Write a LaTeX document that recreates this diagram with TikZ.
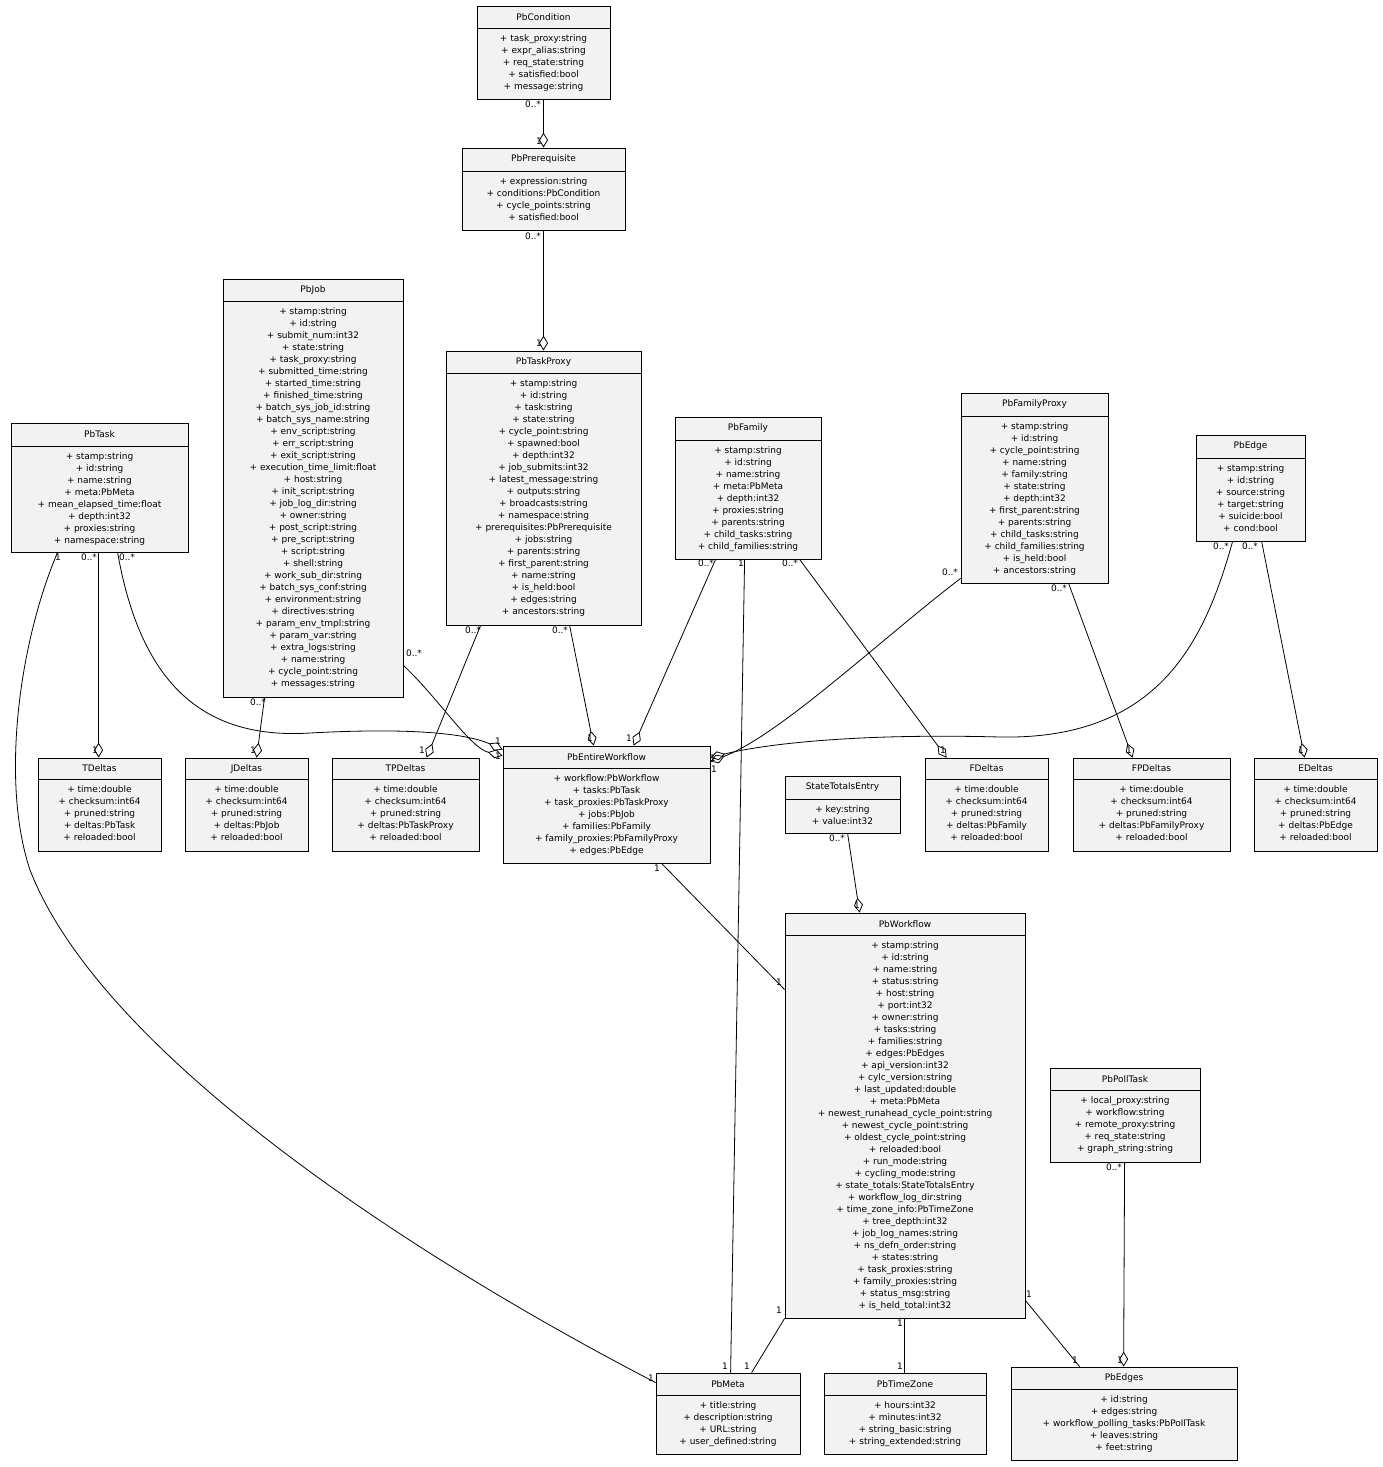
\documentclass[tikz,border=0pt]{standalone}
\usepackage{fontspec}
\setmainfont{DejaVu Sans}
\usetikzlibrary{arrows.meta,fit}
\tikzset{
 cls/.style={draw, fill=gray!10, inner sep=0pt, line width=0.8pt},
 ttl/.style={font=\fontsize{9}{12}\selectfont, inner sep=0pt},
 bdy/.style={font=\fontsize{9}{12}\selectfont, inner sep=0pt, align=center},
 lbl/.style={font=\fontsize{9}{10}\selectfont, inner sep=0pt},
 con/.style={line width=0.8pt},
 agg/.style={con, -{Diamond[open,length=15pt,width=9pt,line width=0.8pt]}}
}
\newcount\mlc
\newcommand\ml[3]{\global\advance\mlc1 \node[lbl] (m\the\mlc) at (#1,-#2) {#3};}
\newcommand\umlc[8]{%
 \node[cls, fit={(#2,-#3) (#4,-#5)}] (#1) {};
 \draw[line width=0.8pt] (#2,-#6) -- (#4,-#6);
 \node[ttl] (#1-t) at ({(#2+#4)/2},{-(#3+#6)/2}) {#7};
 \node[bdy, anchor=north] (#1-b) at ({(#2+#4)/2},{-#6-6}) {#8};
}
\begin{document}
\begin{tikzpicture}[x=1pt,y=1pt]
\useasboundingbox (0,0) rectangle (1383,-1467);
\fill[white] (0,0) rectangle (1383,-1467);
\umlc{cond}{477}{6}{610}{99}{28}{PbCondition}{+ task\_proxy:string\\+ expr\_alias:string\\+ req\_state:string\\+ satisfied:bool\\+ message:string}
\umlc{prereq}{462}{148}{625}{230}{171}{PbPrerequisite}{+ expression:string\\+ conditions:PbCondition\\+ cycle\_points:string\\+ satisfied:bool}
\umlc{job}{223}{279}{403}{697}{301}{PbJob}{+ stamp:string\\+ id:string\\+ submit\_num:int32\\+ state:string\\+ task\_proxy:string\\+ submitted\_time:string\\+ started\_time:string\\+ finished\_time:string\\+ batch\_sys\_job\_id:string\\+ batch\_sys\_name:string\\+ env\_script:string\\+ err\_script:string\\+ exit\_script:string\\+ execution\_time\_limit:float\\+ host:string\\+ init\_script:string\\+ job\_log\_dir:string\\+ owner:string\\+ post\_script:string\\+ pre\_script:string\\+ script:string\\+ shell:string\\+ work\_sub\_dir:string\\+ batch\_sys\_conf:string\\+ environment:string\\+ directives:string\\+ param\_env\_tmpl:string\\+ param\_var:string\\+ extra\_logs:string\\+ name:string\\+ cycle\_point:string\\+ messages:string}
\umlc{tproxy}{446}{351}{641}{625}{373}{PbTaskProxy}{+ stamp:string\\+ id:string\\+ task:string\\+ state:string\\+ cycle\_point:string\\+ spawned:bool\\+ depth:int32\\+ job\_submits:int32\\+ latest\_message:string\\+ outputs:string\\+ broadcasts:string\\+ namespace:string\\+ prerequisites:PbPrerequisite\\+ jobs:string\\+ parents:string\\+ first\_parent:string\\+ name:string\\+ is\_held:bool\\+ edges:string\\+ ancestors:string}
\umlc{fam}{675}{417}{821}{559}{440}{PbFamily}{+ stamp:string\\+ id:string\\+ name:string\\+ meta:PbMeta\\+ depth:int32\\+ proxies:string\\+ parents:string\\+ child\_tasks:string\\+ child\_families:string}
\umlc{fproxy}{961}{393}{1108}{583}{416}{PbFamilyProxy}{+ stamp:string\\+ id:string\\+ cycle\_point:string\\+ name:string\\+ family:string\\+ state:string\\+ depth:int32\\+ first\_parent:string\\+ parents:string\\+ child\_tasks:string\\+ child\_families:string\\+ is\_held:bool\\+ ancestors:string}
\umlc{edge}{1196}{435}{1305}{541}{458}{PbEdge}{+ stamp:string\\+ id:string\\+ source:string\\+ target:string\\+ suicide:bool\\+ cond:bool}
\umlc{task}{11}{423}{188}{552}{446}{PbTask}{+ stamp:string\\+ id:string\\+ name:string\\+ meta:PbMeta\\+ mean\_elapsed\_time:float\\+ depth:int32\\+ proxies:string\\+ namespace:string}
\umlc{td}{38}{758}{161}{851}{779}{TDeltas}{+ time:double\\+ checksum:int64\\+ pruned:string\\+ deltas:PbTask\\+ reloaded:bool}
\umlc{jd}{185}{758}{308}{851}{779}{JDeltas}{+ time:double\\+ checksum:int64\\+ pruned:string\\+ deltas:PbJob\\+ reloaded:bool}
\umlc{tpd}{332}{758}{479}{851}{779}{TPDeltas}{+ time:double\\+ checksum:int64\\+ pruned:string\\+ deltas:PbTaskProxy\\+ reloaded:bool}
\umlc{ew}{503}{746}{710}{863}{768}{PbEntireWorkflow}{+ workflow:PbWorkflow\\+ tasks:PbTask\\+ task\_proxies:PbTaskProxy\\+ jobs:PbJob\\+ families:PbFamily\\+ family\_proxies:PbFamilyProxy\\+ edges:PbEdge}
\umlc{ste}{785}{776}{900}{833}{799}{StateTotalsEntry}{+ key:string\\+ value:int32}
\umlc{fd}{925}{758}{1048}{851}{779}{FDeltas}{+ time:double\\+ checksum:int64\\+ pruned:string\\+ deltas:PbFamily\\+ reloaded:bool}
\umlc{fpd}{1073}{758}{1230}{851}{779}{FPDeltas}{+ time:double\\+ checksum:int64\\+ pruned:string\\+ deltas:PbFamilyProxy\\+ reloaded:bool}
\umlc{ed}{1254}{758}{1377}{851}{779}{EDeltas}{+ time:double\\+ checksum:int64\\+ pruned:string\\+ deltas:PbEdge\\+ reloaded:bool}
\umlc{wf}{785}{913}{1025}{1318}{935}{PbWorkflow}{+ stamp:string\\+ id:string\\+ name:string\\+ status:string\\+ host:string\\+ port:int32\\+ owner:string\\+ tasks:string\\+ families:string\\+ edges:PbEdges\\+ api\_version:int32\\+ cylc\_version:string\\+ last\_updated:double\\+ meta:PbMeta\\+ newest\_runahead\_cycle\_point:string\\+ newest\_cycle\_point:string\\+ oldest\_cycle\_point:string\\+ reloaded:bool\\+ run\_mode:string\\+ cycling\_mode:string\\+ state\_totals:StateTotalsEntry\\+ workflow\_log\_dir:string\\+ time\_zone\_info:PbTimeZone\\+ tree\_depth:int32\\+ job\_log\_names:string\\+ ns\_defn\_order:string\\+ states:string\\+ task\_proxies:string\\+ family\_proxies:string\\+ status\_msg:string\\+ is\_held\_total:int32}
\umlc{poll}{1050}{1068}{1200}{1162}{1090}{PbPollTask}{+ local\_proxy:string\\+ workflow:string\\+ remote\_proxy:string\\+ req\_state:string\\+ graph\_string:string}
\umlc{meta}{656}{1373}{800}{1454}{1395}{PbMeta}{+ title:string\\+ description:string\\+ URL:string\\+ user\_defined:string}
\umlc{tz}{824}{1373}{986}{1454}{1395}{PbTimeZone}{+ hours:int32\\+ minutes:int32\\+ string\_basic:string\\+ string\_extended:string}
\umlc{edges}{1011}{1367}{1237}{1460}{1389}{PbEdges}{+ id:string\\+ edges:string\\+ workflow\_polling\_tasks:PbPollTask\\+ leaves:string\\+ feet:string}
% connectors
\draw[agg] (cond.south) -- (prereq.north);
\draw[agg] (prereq.south) -- (tproxy.north);
\draw[agg] ([xshift=88pt]task.south west) -- ([xshift=61pt]td.north west);
\draw[agg] ([xshift=107pt]task.south west) .. controls (140,-680) and (200,-740) .. (310,-733) .. controls (420,-727) and (470,-735) .. ([yshift=-4pt]ew.north west);
\draw[agg] ([yshift=32pt]job.south east) .. controls (440,-700) and (470,-748) .. ([yshift=-10pt]ew.north west);
\draw[agg] ([xshift=42pt]job.south west) -- ([xshift=72pt]jd.north west);
\draw[agg] ([xshift=35pt]tproxy.south west) -- ([xshift=95pt]tpd.north west);
\draw[agg] ([xshift=124pt]tproxy.south west) -- ([xshift=91pt]ew.north west);
\draw[agg] ([xshift=41pt]fam.south west) -- ([xshift=131pt]ew.north west);
\draw[con] ([xshift=70pt]fam.south west) -- ([xshift=75pt]meta.north west);
\draw[agg] ([xshift=125pt]fam.south west) -- ([xshift=22pt]fd.north west);
\draw[agg] ([yshift=5pt]fproxy.south west) .. controls (880,-640) and (780,-735) .. ([yshift=-16pt]ew.north east);
\draw[agg] ([xshift=108pt]fproxy.south west) -- ([xshift=60pt]fpd.north west);
\draw[agg] ([xshift=37pt]edge.south west) .. controls (1205,-640) and (1160,-740) .. (1000,-737) .. controls (850,-733) and (760,-745) .. ([yshift=-12pt]ew.north east);
\draw[agg] ([xshift=66pt]edge.south west) -- ([xshift=51pt]ed.north west);
\draw[agg] ([xshift=63pt]ste.south west) -- ([xshift=75pt]wf.north west);
\draw[con] ([xshift=159pt]ew.south west) -- ([yshift=-77pt]wf.north west);
\draw[con] (wf.south west) -- ([xshift=96pt]meta.north west);
\draw[con] ([xshift=120pt]wf.south west) -- ([xshift=81pt]tz.north west);
\draw[con] ([yshift=18pt]wf.south east) -- ([xshift=69pt]edges.north west);
\draw[agg] ([xshift=75pt]poll.south west) -- ([xshift=113pt]edges.north west);
\draw[con] ([xshift=47pt]task.south west) .. controls (20,-640) and (0,-780) .. (30,-870) .. controls (100,-1050) and (400,-1250) .. ([yshift=-10pt]meta.north west);
% multiplicities
\ml{533}{104}{0..*}\ml{539}{141}{1}
\ml{533}{236}{0..*}\ml{539}{343}{1}
\ml{89}{557}{0..*}\ml{95}{750}{1}
\ml{127}{557}{0..*}\ml{498}{741}{1}
\ml{414}{653}{0..*}\ml{498}{756}{1}
\ml{258}{702}{0..*}\ml{253}{750}{1}
\ml{473}{630}{0..*}\ml{422}{750}{1}
\ml{560}{630}{0..*}\ml{590}{738}{1}
\ml{706}{563}{0..*}\ml{629}{738}{1}
\ml{741}{563}{1}\ml{725}{1366}{1}
\ml{790}{563}{0..*}\ml{943}{750}{1}
\ml{950}{572}{0..*}\ml{714}{769}{1}
\ml{1059}{588}{0..*}\ml{1129}{750}{1}
\ml{1221}{546}{0..*}\ml{713}{758}{1}
\ml{1250}{546}{0..*}\ml{1301}{750}{1}
\ml{837}{838}{0..*}\ml{857}{905}{1}
\ml{657}{868}{1}\ml{779}{982}{1}
\ml{779}{1310}{1}\ml{747}{1366}{1}
\ml{900}{1323}{1}\ml{900}{1366}{1}
\ml{1029}{1294}{1}\ml{1075}{1360}{1}
\ml{1114}{1167}{0..*}\ml{1120}{1360}{1}
\ml{58}{557}{1}\ml{651}{1378}{1}
\end{tikzpicture}
\end{document}
